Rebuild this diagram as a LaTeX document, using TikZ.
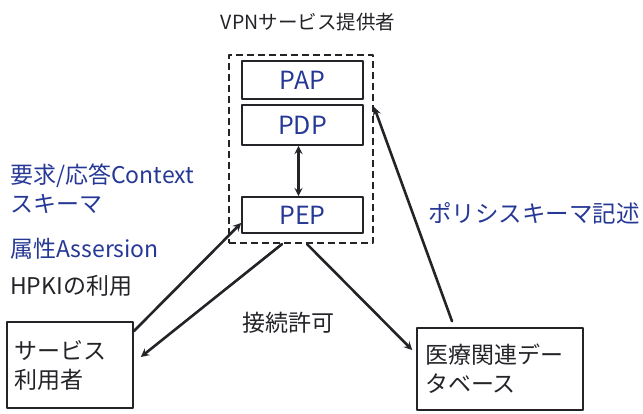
\documentclass[tikz,border=0pt]{standalone}
\usepackage{fontspec}
\setmainfont{Noto Sans CJK JP}
\definecolor{lblue}{RGB}{38,56,150}
\definecolor{ink}{RGB}{35,35,40}
\begin{document}
\begin{tikzpicture}[line join = round, line cap = round,>=stealth, x=1pt, y=-1pt,
	box/.style={draw=ink, line width=1.6pt},
	part/.style={box, inner sep=0pt, minimum width=121pt, text=lblue, font=\fontsize{25}{25}\selectfont},
	frame/.style={draw=ink, line cap=butt, dash pattern=on 7pt off 4pt, line width=2.2pt, minimum width=144pt, minimum height=188pt, inner sep=0pt},
	lbl/.style={font=\fontsize{23}{29}\selectfont, text=ink, align=left},
	flow/.style={->, draw=ink, line width=2.6pt}]
	\useasboundingbox (0,0) rectangle (643,413);
	%Khung VPN va cac khoi
	\node[lbl, font=\fontsize{19.5}{19.5}\selectfont] (title) at (308,22) {VPNサービス提供者};
	\node[frame] (vpn) at (301,149) {};
	\node[part, minimum height=38pt] (pap) at (302.5,80) {PAP};
	\node[part, minimum height=40pt] (pdp) at (302.5,125) {PDP};
	\node[part, minimum height=36pt] (pep) at (302.5,215) {PEP};
	%Cac nhan ben trai
	\node[lbl, text=lblue, anchor=west, inner sep=2pt] (ctx) at (8,189) {要求/応答Context\\スキーマ};
	\node[lbl, text=lblue, anchor=west, inner sep=2pt] (attr) at (8,249) {属性Assersion};
	\node[lbl, anchor=west, inner sep=2pt] (hpki) at (8,286) {HPKIの利用};
	%Hai hop duoi
	\node[box, lbl, text width=112pt, inner xsep=7pt, minimum height=86pt] (user) at (70,365) {サービス\\利用者};
	\node[box, lbl, text width=150pt, inner xsep=8pt, minimum height=82pt] (db) at (500,369) {医療関連デー\\タベース};
	\node[lbl] (grant) at (288,323) {接続許可};
	\node[lbl, text=lblue, font=\fontsize{23.5}{29}\selectfont] (pol) at (534,213) {ポリシスキーマ記述};
	%Cac mui ten
	\draw[<->, draw=ink, line width=2.6pt] ([xshift=-4pt]pdp.south) -- ([xshift=-4pt]pep.north);
	\draw[flow] ([yshift=-10pt]user.north east) -- ([yshift=-8pt]pep.west);
	\draw[flow] ([xshift=-19pt]vpn.south) -- ([shift={(7pt,8pt)}]user.east);
	\draw[flow] ([xshift=6pt]vpn.south) -- ([shift={(-4pt,19pt)}]db.west);
	\draw[flow] ([shift={(-48pt,6pt)}]db.north) -- ([yshift=42pt]vpn.east);
\end{tikzpicture}
\end{document}
